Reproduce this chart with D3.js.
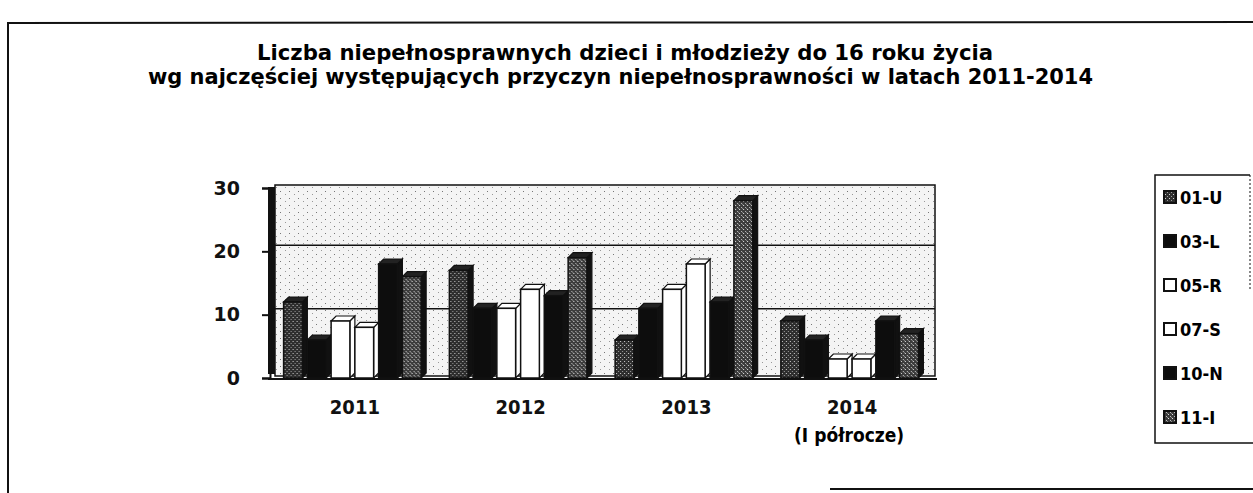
<!DOCTYPE html>
<html>
<head>
<meta charset="utf-8">
<script src="https://cdn.jsdelivr.net/npm/d3@7"></script>
<style>
body { margin:0; background:#fff; }
svg { display:block; }
</style>
</head>
<body>
<svg id="chart"></svg>
<script>
var width = 1253;
var height = 493;

// data
var years = ["2011", "2012", "2013", "2014"];
var seriesNames = ["01-U", "03-L", "05-R", "07-S", "10-N", "11-I"];
var u01 = [12, 17, 6, 9];
var l03 = [6, 11, 11, 6];
var r05 = [9, 11, 14, 3];
var s07 = [8, 14, 18, 3];
var n10 = [18, 13, 12, 9];
var i11 = [16, 19, 28, 7];
var yTicks = [0, 10, 20, 30];
var titleLines = ["Liczba niepełnosprawnych dzieci i młodzieży do 16 roku życia",
                  "wg najczęściej występujących przyczyn niepełnosprawności w latach 2011-2014"];

var seriesValues = [u01, l03, r05, s07, n10, i11];
var fills = ["url(#dots-dark)", "#0d0d0d", "#fff", "#fff", "#0d0d0d", "url(#dots-mid)"];

var svg = d3.select("#chart")
    .attr("width", width)
    .attr("height", height)

var defs = svg.append("defs")

// speckled paper look for the back wall
var wall = defs.append("pattern").attr("id", "wall-dots")
    .attr("width", 9).attr("height", 7).attr("patternUnits", "userSpaceOnUse")
wall.append("rect").attr("width", 9).attr("height", 7).attr("fill", "#f4f4f4")
wall.append("rect").attr("x", 1).attr("y", 2).attr("width", 1).attr("height", 1).attr("fill", "#777")
wall.append("rect").attr("x", 6).attr("y", 5).attr("width", 1).attr("height", 1).attr("fill", "#999")

var dark = defs.append("pattern").attr("id", "dots-dark")
    .attr("width", 4).attr("height", 4).attr("patternUnits", "userSpaceOnUse")
dark.append("rect").attr("width", 4).attr("height", 4).attr("fill", "#2e2e2e")
dark.append("rect").attr("x", 1).attr("y", 1).attr("width", 1).attr("height", 1).attr("fill", "#cfcfcf")
dark.append("rect").attr("x", 3).attr("y", 3).attr("width", 1).attr("height", 1).attr("fill", "#9a9a9a")

var mid = defs.append("pattern").attr("id", "dots-mid")
    .attr("width", 4).attr("height", 4).attr("patternUnits", "userSpaceOnUse")
mid.append("rect").attr("width", 4).attr("height", 4).attr("fill", "#3c3c3c")
mid.append("rect").attr("x", 0).attr("y", 1).attr("width", 1).attr("height", 1).attr("fill", "#e0e0e0")
mid.append("rect").attr("x", 2).attr("y", 3).attr("width", 1).attr("height", 1).attr("fill", "#bdbdbd")
mid.append("rect").attr("x", 3).attr("y", 0).attr("width", 1).attr("height", 1).attr("fill", "#8a8a8a")

// page frame
svg.append("line").attr("x1", 8).attr("x2", width).attr("y1", 23).attr("y2", 22)
    .attr("stroke", "#111").attr("stroke-width", 2)
svg.append("line").attr("x1", 8).attr("x2", 8).attr("y1", 22).attr("y2", height)
    .attr("stroke", "#111").attr("stroke-width", 2)
svg.append("line").attr("x1", 830).attr("x2", width).attr("y1", 489).attr("y2", 489)
    .attr("stroke", "#111").attr("stroke-width", 2)

// title
var titleFont = "'DejaVu Sans Condensed', 'DejaVu Sans', sans-serif"
svg.append("text")
    .attr("x", 257).attr("y", 60)
    .attr("font-family", titleFont).attr("font-weight", "bold").attr("font-size", 21)
    .attr("textLength", 736).attr("lengthAdjust", "spacingAndGlyphs")
    .text(titleLines[0])
svg.append("text")
    .attr("x", 148).attr("y", 84)
    .attr("font-family", titleFont).attr("font-weight", "bold").attr("font-size", 21)
    .attr("textLength", 945).attr("lengthAdjust", "spacingAndGlyphs")
    .text(titleLines[1])

// scales
var y = d3.scaleLinear().domain([0, 30]).range([378, 188])
var x0 = d3.scaleBand().domain(years).range([272, 935]).paddingInner(0.14).paddingOuter(0.07)
var x1 = d3.scaleBand().domain(seriesNames).range([0, x0.bandwidth()])

var depth = 5

// back wall + floor
svg.append("rect")
    .attr("x", 275).attr("y", y(30) - 3)
    .attr("width", 935 - 275).attr("height", y(0) - y(30) + 1)
    .attr("fill", "url(#wall-dots)").attr("stroke", "#111").attr("stroke-width", 1.5)

svg.selectAll(".grid")
    .data([10, 20])
    .enter()
    .append("line")
    .attr("class", "grid")
    .attr("x1", 275).attr("x2", 935)
    .attr("y1", function(d) { return y(d) - 6 })
    .attr("y2", function(d) { return y(d) - 6 })
    .attr("stroke", "#111").attr("stroke-width", 1.5)

// left side wall (dark band)
svg.append("rect")
    .attr("x", 268).attr("y", y(30) - 1)
    .attr("width", 7).attr("height", y(0) - y(30) - 3)
    .attr("fill", "#111")

svg.append("line")
    .attr("x1", 268).attr("x2", 937).attr("y1", y(0) + 1).attr("y2", y(0) + 1)
    .attr("stroke", "#111").attr("stroke-width", 2)

// bars
var groups = svg.selectAll(".year")
    .data(years)
    .enter()
    .append("g")
    .attr("class", "year")
    .attr("transform", function(d) { return "translate(" + x0(d) + ",0)" })

groups.each(function(year, yi) {
    var g = d3.select(this)
    seriesNames.forEach(function(name, si) {
        var v = seriesValues[si][yi]
        var bx = x1(name)
        var bw = x1.bandwidth() - depth
        var top = y(v)
        var bottom = y(0)
        // side face
        g.append("path")
            .attr("d", "M" + (bx + bw) + "," + top + " L" + (bx + bw + depth) + "," + (top - depth) +
                " L" + (bx + bw + depth) + "," + (bottom - depth) + " L" + (bx + bw) + "," + bottom + "Z")
            .attr("fill", fills[si] == "#fff" ? "#fff" : "#111")
            .attr("stroke", "#111").attr("stroke-width", 1.2)
        // top face
        g.append("path")
            .attr("d", "M" + bx + "," + top + " L" + (bx + depth) + "," + (top - depth) +
                " L" + (bx + bw + depth) + "," + (top - depth) + " L" + (bx + bw) + "," + top + "Z")
            .attr("fill", fills[si] == "#fff" ? "#fff" : "#222")
            .attr("stroke", "#111").attr("stroke-width", 1.2)
        // front face
        g.append("rect")
            .attr("x", bx).attr("y", top)
            .attr("width", bw).attr("height", bottom - top)
            .attr("fill", fills[si])
            .attr("stroke", "#111").attr("stroke-width", 1.5)
    })
})

// y axis
var yAxis = d3.axisLeft(y).tickValues(yTicks).tickSize(8).tickPadding(22)
var ya = svg.append("g")
    .attr("transform", "translate(270,0)")
    .call(yAxis)
ya.select(".domain").attr("stroke", "#111").attr("stroke-width", 2)
ya.selectAll(".tick line").attr("stroke", "#111").attr("stroke-width", 2)
ya.selectAll(".tick text")
    .attr("font-family", "'DejaVu Sans', sans-serif")
    .attr("font-weight", "bold").attr("font-size", 19).attr("fill", "#111")

// x axis labels
var xAxis = d3.axisBottom(x0).tickSize(0).tickPadding(20)
var xa = svg.append("g")
    .attr("transform", "translate(0,380)")
    .call(xAxis)
xa.select(".domain").remove()
xa.selectAll(".tick text")
    .attr("font-family", titleFont)
    .attr("font-weight", "bold").attr("font-size", 20).attr("fill", "#111")

svg.append("text")
    .attr("x", x0("2014") + x0.bandwidth() / 2 - 3).attr("y", 442)
    .attr("text-anchor", "middle")
    .attr("font-family", titleFont).attr("font-weight", "bold").attr("font-size", 19)
    .text("(I półrocze)")

// legend
svg.append("path")
    .attr("d", "M1250,175 L1155,175 L1155,443 L1253,443")
    .attr("fill", "none").attr("stroke", "#111").attr("stroke-width", 1.5)
svg.append("line")
    .attr("x1", 1250).attr("x2", 1250).attr("y1", 175).attr("y2", 290)
    .attr("stroke", "#111").attr("stroke-width", 1).attr("stroke-dasharray", "2,2")

var legend = svg.selectAll(".legend")
    .data(seriesNames)
    .enter()
    .append("g")
    .attr("class", "legend")
    .attr("transform", function(d, i) { return "translate(1164," + (197 + i * 44) + ")" })

legend.append("rect")
    .attr("x", 0).attr("y", -6)
    .attr("width", 12).attr("height", 12)
    .attr("fill", function(d, i) { return fills[i] })
    .attr("stroke", "#111").attr("stroke-width", 2)

legend.append("text")
    .attr("x", 16).attr("y", 7)
    .attr("font-family", "'DejaVu Sans Condensed', sans-serif")
    .attr("font-weight", "bold").attr("font-size", 18)
    .text(function(d) { return d })
</script>
</body>
</html>
